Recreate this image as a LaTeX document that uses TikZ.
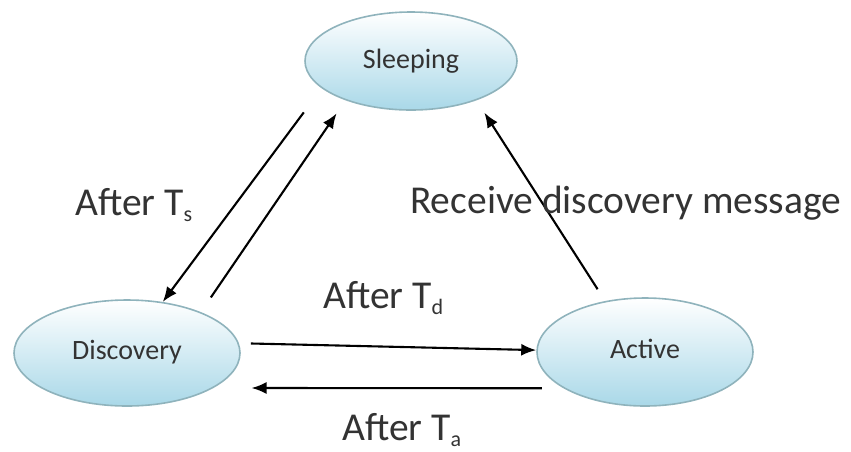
\documentclass[tikz,border=0pt]{standalone}
\usepackage{fontspec}
\setmainfont{Carlito}
\usetikzlibrary{shapes.geometric,arrows.meta}
\definecolor{elborder}{HTML}{8FB3BC}
\definecolor{elfill}{HTML}{A9D8E8}
\definecolor{txtgray}{HTML}{333333}
\newcommand{\lowsub}[1]{\raisebox{-6pt}{\fontsize{22}{24}\selectfont #1}}
\tikzset{
  state/.style={ellipse, draw=elborder, line width=1.6pt, top color=white, bottom color=elfill,
    inner sep=0pt, font=\fontsize{28}{30}\selectfont, text=txtgray},
  trans/.style={-{Latex[length=15pt,width=12pt]}, line width=2.1pt, black},
  lbl/.style={anchor=base west, inner sep=0pt, font=\fontsize{39.5}{42}\selectfont, text=txtgray}
}
\begin{document}
\begin{tikzpicture}[x=1pt,y=-1pt]
\useasboundingbox (0,0) rectangle (851,451);
\node[state, minimum width=212pt, minimum height=98pt] (S) at (411,61) {\raisebox{5pt}{Sleeping}};
\node[state, minimum width=226pt, minimum height=106pt] (D) at (127,353) {\raisebox{6pt}{Discovery}};
\node[state, minimum width=216pt, minimum height=108pt] (A) at (645,352) {\raisebox{6pt}{Active}};

\draw[trans, shorten <=30pt] (S.197) -- (D.55.5);
\draw[trans, shorten <=17.7pt, shorten >=15.8pt] (D.29.1) -- (S.211.3);
\draw[trans, shorten <=12pt] (D.5.15) -- (A.179);
\draw[trans, shorten <=21.5pt, shorten >=38pt] (A.204.1) -- (D.338.6);
\draw[trans, shorten <=14pt, shorten >=14.6pt] (A.128.1) -- (S.329.3);

\node[lbl] (ls) at (75,215) {After T\lowsub{s}};
\node[lbl] (lr) at (410,213) {Receive discovery message};
\node[lbl] (ld) at (323,308) {After T\lowsub{d}};
\node[lbl] (la) at (342,440) {After T\lowsub{a}};
\end{tikzpicture}
\end{document}
